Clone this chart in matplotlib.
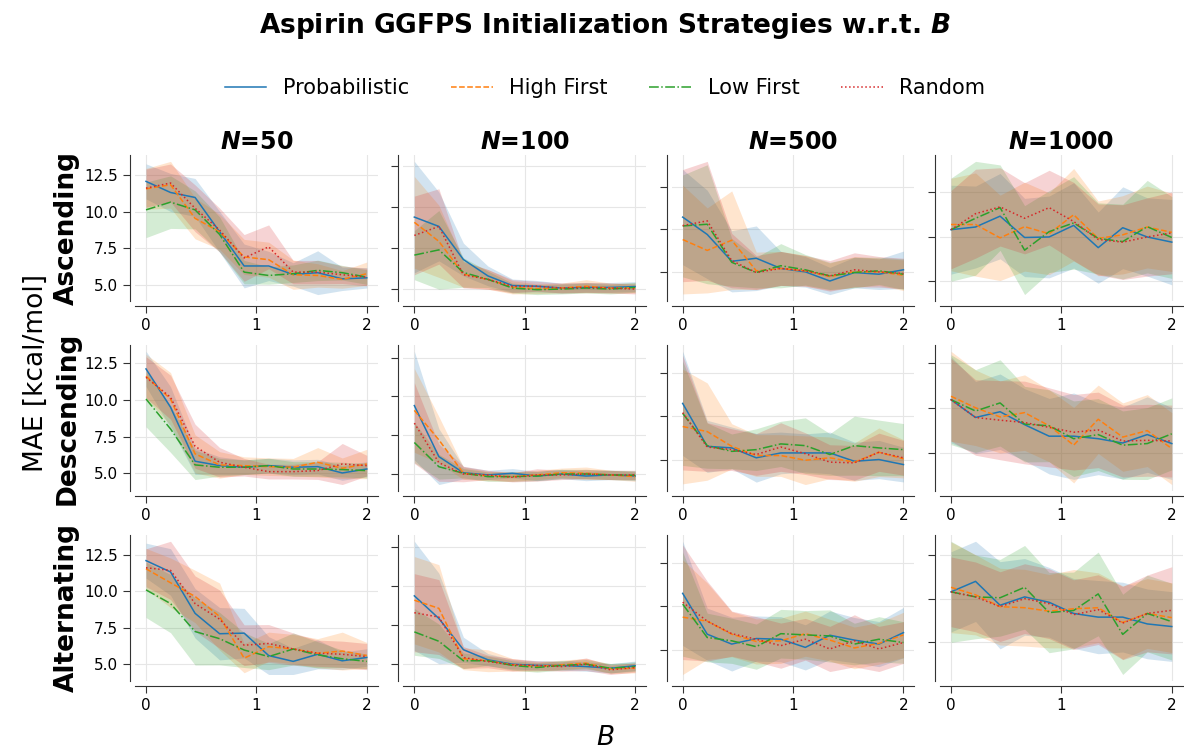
import numpy as np
import matplotlib.pyplot as plt
from matplotlib.ticker import MultipleLocator

strategies = ['Probabilistic', 'High First', 'Low First', 'Random']
orders = ['Ascending', 'Descending', 'Alternating']
n_values = [50, 100, 500, 1000]
b_values = np.linspace(0, 2, 10)

# MAE mean and std per panel, one row per strategy (Probabilistic, High First, Low First, Random)
asc_n50_mean = [[12.08, 11.32, 10.98, 8.63, 6.29, 6.29, 5.71, 5.83, 5.41, 5.48],
                [11.57, 11.85, 9.55, 8.63, 6.91, 6.72, 5.69, 5.64, 5.37, 5.76],
                [10.13, 10.66, 10.13, 8.45, 5.87, 5.64, 5.76, 5.99, 5.83, 5.53],
                [11.62, 11.97, 10.24, 8.75, 6.84, 7.60, 5.87, 5.87, 5.69, 5.53]]
asc_n50_sd = [[1.2, 1.3, 1.3, 1.4, 1.5, 1.0, 0.8, 1.5, 0.8, 0.7],
              [1.4, 1.6, 1.4, 1.2, 1.2, 1.2, 1.0, 0.8, 0.6, 0.8],
              [1.9, 1.8, 1.3, 1.2, 0.8, 0.6, 0.6, 0.7, 0.5, 0.5],
              [1.3, 1.3, 1.6, 1.5, 1.6, 1.5, 0.8, 0.8, 0.6, 0.6]]

asc_n100_mean = [[9.39, 8.82, 6.80, 5.80, 5.21, 5.17, 5.06, 5.10, 5.10, 5.15],
                 [9.07, 7.91, 5.91, 5.59, 5.10, 5.02, 5.06, 5.17, 5.06, 5.06],
                 [7.07, 7.39, 6.01, 5.59, 5.06, 4.96, 5.00, 5.06, 5.00, 5.10],
                 [8.27, 8.82, 5.87, 5.59, 5.17, 5.17, 5.06, 5.10, 5.06, 5.00]]
asc_n100_sd = [[3.4, 2.1, 1.0, 0.6, 0.4, 0.35, 0.3, 0.3, 0.3, 0.3],
               [2.8, 2.2, 0.8, 0.6, 0.4, 0.3, 0.3, 0.4, 0.3, 0.3],
               [1.5, 2.4, 0.9, 0.5, 0.3, 0.3, 0.3, 0.3, 0.3, 0.3],
               [2.4, 2.3, 0.8, 0.6, 0.4, 0.3, 0.3, 0.3, 0.3, 0.3]]

asc_n500_mean = [[8.22, 7.20, 5.62, 5.80, 5.20, 5.00, 4.46, 4.96, 4.86, 5.12],
                 [6.90, 6.26, 6.86, 5.06, 5.20, 5.06, 4.72, 5.00, 5.00, 4.80],
                 [7.70, 7.80, 5.56, 4.96, 5.36, 5.12, 4.76, 4.96, 5.06, 4.86],
                 [7.72, 8.00, 5.66, 4.96, 5.20, 5.06, 4.76, 5.12, 5.00, 4.90]]
asc_n500_sd = [[2.8, 2.6, 1.8, 1.9, 1.0, 0.9, 0.8, 0.9, 0.9, 1.1],
               [3.2, 2.5, 2.9, 1.1, 1.0, 0.9, 0.8, 0.9, 0.8, 0.9],
               [3.0, 3.5, 1.4, 0.9, 1.3, 0.9, 0.8, 0.9, 0.8, 0.9],
               [3.3, 3.5, 1.6, 1.0, 1.0, 0.9, 0.9, 1.0, 0.9, 0.9]]

asc_n1000_mean = [[7.89, 8.04, 8.65, 7.45, 7.48, 8.13, 6.88, 8.00, 7.48, 7.19],
                  [8.18, 8.18, 7.43, 8.06, 7.66, 8.73, 7.40, 7.60, 8.04, 7.74],
                  [7.89, 8.53, 9.13, 6.74, 7.78, 8.27, 7.40, 7.22, 8.06, 7.45],
                  [7.89, 8.79, 9.17, 8.53, 9.13, 8.35, 7.34, 7.19, 7.48, 7.71]]
asc_n1000_sd = [[2.5, 2.3, 2.4, 2.2, 2.3, 2.4, 2.0, 2.3, 2.2, 2.4],
                [2.6, 2.9, 2.4, 2.5, 2.3, 2.6, 2.1, 2.2, 2.3, 2.2],
                [2.9, 3.2, 2.4, 2.5, 2.3, 2.6, 2.0, 2.1, 2.6, 2.3],
                [2.2, 2.5, 2.2, 2.0, 2.1, 2.2, 2.0, 2.1, 2.2, 2.3]]

desc_n50_mean = [[12.11, 9.50, 5.82, 5.52, 5.41, 5.52, 5.41, 5.45, 5.02, 5.29],
                 [11.61, 10.06, 6.32, 5.57, 5.52, 5.45, 5.41, 5.75, 5.34, 5.63],
                 [10.06, 8.02, 5.57, 5.41, 5.41, 5.52, 5.29, 5.29, 5.25, 5.18],
                 [11.54, 10.18, 6.84, 5.75, 5.41, 5.11, 5.11, 5.18, 5.63, 5.52]]
desc_n50_sd = [[1.2, 1.4, 0.9, 0.6, 0.5, 0.5, 0.5, 0.5, 0.5, 0.5],
               [1.5, 1.8, 1.3, 0.9, 0.6, 0.6, 0.6, 1.0, 0.7, 1.0],
               [1.9, 1.6, 1.0, 0.6, 0.5, 0.5, 0.5, 0.5, 0.5, 0.5],
               [1.4, 1.5, 1.5, 1.0, 0.6, 0.5, 0.5, 0.6, 1.4, 0.7]]

desc_n100_mean = [[9.41, 6.12, 5.08, 4.94, 5.05, 4.87, 5.00, 4.87, 4.94, 4.87],
                  [9.10, 7.20, 5.05, 4.87, 4.83, 4.94, 5.08, 5.05, 4.94, 4.83],
                  [7.03, 5.47, 5.05, 4.83, 4.83, 4.87, 5.00, 5.00, 4.94, 4.92],
                  [8.28, 5.73, 5.00, 4.94, 4.79, 4.94, 4.94, 5.00, 4.94, 4.94]]
desc_n100_sd = [[3.5, 1.8, 0.4, 0.3, 0.3, 0.3, 0.3, 0.3, 0.3, 0.3],
                [2.7, 1.5, 0.4, 0.3, 0.3, 0.3, 0.3, 0.4, 0.3, 0.3],
                [1.3, 0.8, 0.3, 0.3, 0.3, 0.3, 0.3, 0.3, 0.3, 0.3],
                [2.6, 1.2, 0.5, 0.3, 0.3, 0.4, 0.3, 0.3, 0.3, 0.3]]

desc_n500_mean = [[8.23, 5.76, 5.67, 5.10, 5.38, 5.38, 5.38, 4.90, 5.00, 4.71],
                  [6.90, 6.61, 5.76, 5.23, 5.23, 4.96, 5.10, 4.85, 5.42, 5.04],
                  [7.66, 5.80, 5.47, 5.57, 5.90, 5.80, 5.29, 5.80, 5.67, 5.57],
                  [7.70, 5.72, 5.57, 5.29, 5.72, 5.34, 4.85, 4.81, 5.42, 5.10]]
desc_n500_sd = [[3.0, 1.5, 1.2, 1.4, 1.2, 1.1, 1.2, 1.1, 1.1, 1.0],
                [3.3, 2.8, 1.3, 1.2, 1.2, 1.4, 1.2, 1.1, 1.4, 1.1],
                [3.0, 1.3, 1.0, 1.2, 1.3, 1.6, 1.2, 1.7, 1.6, 1.5],
                [3.3, 1.4, 1.2, 1.2, 1.4, 1.2, 1.0, 1.0, 1.1, 1.0]]

desc_n1000_mean = [[7.95, 6.96, 7.28, 6.56, 5.92, 5.92, 5.78, 5.54, 6.01, 5.51],
                   [8.14, 7.50, 6.99, 7.23, 6.50, 5.42, 6.86, 5.87, 6.23, 5.23],
                   [7.95, 7.32, 7.77, 6.59, 6.50, 5.78, 6.01, 5.42, 5.51, 6.05],
                   [7.95, 6.96, 6.81, 6.68, 6.41, 6.14, 6.27, 5.65, 5.69, 5.65]]
desc_n1000_sd = [[2.4, 2.0, 2.1, 2.0, 2.1, 2.4, 2.0, 2.0, 2.1, 2.0],
                 [2.5, 2.1, 2.0, 2.1, 2.0, 2.1, 1.9, 1.9, 2.0, 2.0],
                 [2.5, 2.3, 2.4, 2.1, 2.0, 2.1, 2.0, 1.9, 2.0, 2.0],
                 [2.3, 2.1, 2.2, 2.3, 2.2, 2.1, 2.1, 2.0, 2.0, 2.0]]

alt_n50_mean = [[12.10, 11.32, 8.48, 7.08, 7.12, 5.58, 5.18, 5.67, 5.22, 5.45],
                [11.54, 10.58, 9.64, 8.26, 5.40, 6.19, 6.03, 5.74, 5.89, 5.58],
                [10.09, 9.15, 7.23, 6.74, 5.96, 5.51, 6.03, 5.63, 5.36, 5.18],
                [11.61, 11.43, 9.15, 8.08, 6.29, 6.41, 6.03, 5.74, 5.67, 5.51]]
alt_n50_sd = [[1.2, 1.6, 1.7, 1.8, 1.7, 1.3, 0.9, 1.0, 0.6, 0.6],
              [1.4, 1.7, 1.8, 2.3, 1.0, 1.0, 1.0, 1.0, 1.3, 0.9],
              [1.9, 2.0, 2.3, 1.8, 1.2, 0.9, 1.1, 0.9, 0.6, 0.5],
              [1.3, 2.0, 1.9, 2.0, 1.4, 1.3, 1.1, 0.9, 0.9, 0.9]]

alt_n100_mean = [[9.38, 7.93, 5.93, 5.28, 5.00, 4.92, 4.92, 4.85, 4.74, 4.90],
                 [9.10, 8.58, 5.35, 5.22, 4.96, 4.85, 4.96, 5.07, 4.70, 4.74],
                 [7.07, 6.47, 5.22, 5.22, 4.92, 4.79, 4.92, 5.00, 4.74, 4.85],
                 [8.30, 8.02, 5.43, 5.17, 4.96, 4.92, 4.85, 5.00, 4.64, 4.79]]
alt_n100_sd = [[3.5, 2.9, 0.8, 0.4, 0.3, 0.3, 0.3, 0.3, 0.3, 0.3],
               [2.8, 2.8, 0.7, 0.7, 0.4, 0.3, 0.3, 0.3, 0.3, 0.3],
               [1.5, 1.1, 0.5, 0.3, 0.3, 0.3, 0.3, 0.3, 0.3, 0.3],
               [2.5, 2.4, 0.7, 0.4, 0.4, 0.3, 0.3, 0.4, 0.3, 0.3]]

alt_n500_mean = [[8.24, 5.89, 5.32, 5.64, 5.60, 5.13, 5.83, 5.55, 5.32, 5.98],
                 [6.87, 6.64, 5.89, 5.47, 5.51, 5.92, 5.55, 5.10, 5.36, 5.85],
                 [7.62, 5.70, 5.51, 5.17, 5.92, 5.85, 5.79, 5.32, 5.60, 5.41],
                 [7.73, 6.64, 5.92, 5.60, 5.23, 5.60, 5.04, 5.51, 5.04, 5.41]]
alt_n500_sd = [[3.0, 1.5, 1.55, 1.3, 1.3, 1.3, 1.4, 1.3, 1.3, 1.45],
               [3.3, 2.2, 1.3, 1.3, 1.3, 1.3, 1.2, 1.2, 1.2, 1.3],
               [3.0, 1.4, 1.3, 1.3, 1.4, 1.4, 1.5, 1.2, 1.3, 1.2],
               [3.3, 2.3, 1.3, 1.3, 1.3, 1.2, 1.3, 1.5, 1.3, 1.2]]

alt_n1000_mean = [[7.90, 8.50, 7.13, 7.61, 7.30, 6.66, 6.45, 6.45, 6.06, 5.91],
                  [8.16, 7.73, 7.05, 6.99, 6.79, 6.93, 6.99, 6.14, 6.66, 6.42],
                  [7.90, 7.61, 7.56, 8.16, 6.71, 6.83, 7.78, 5.46, 6.66, 6.19],
                  [7.90, 7.61, 7.05, 7.51, 7.22, 6.59, 6.88, 6.11, 6.66, 6.84]]
alt_n1000_sd = [[2.3, 2.3, 2.5, 2.2, 2.0, 2.0, 2.1, 2.0, 2.0, 2.0],
                [2.6, 2.3, 2.2, 2.2, 2.1, 2.25, 2.0, 2.1, 2.0, 2.0],
                [2.9, 2.4, 2.2, 2.4, 2.3, 2.2, 2.4, 2.3, 2.2, 2.2],
                [2.0, 2.0, 2.0, 2.0, 2.0, 2.0, 2.0, 2.1, 2.2, 2.5]]

means = [[asc_n50_mean, asc_n100_mean, asc_n500_mean, asc_n1000_mean],
         [desc_n50_mean, desc_n100_mean, desc_n500_mean, desc_n1000_mean],
         [alt_n50_mean, alt_n100_mean, alt_n500_mean, alt_n1000_mean]]
sds = [[asc_n50_sd, asc_n100_sd, asc_n500_sd, asc_n1000_sd],
       [desc_n50_sd, desc_n100_sd, desc_n500_sd, desc_n1000_sd],
       [alt_n50_sd, alt_n100_sd, alt_n500_sd, alt_n1000_sd]]

colors = ['tab:blue', 'tab:orange', 'tab:green', 'tab:red']
styles = ['-', '--', '-.', ':']

fig, axes = plt.subplots(3, 4, figsize=(11.84, 7.51), dpi=100)
fig.subplots_adjust(left=0.114, right=0.999, top=0.794, bottom=0.093,
                    wspace=0.105, hspace=0.296)

for i, order in enumerate(orders):
    for j, n in enumerate(n_values):
        ax = axes[i, j]
        m = np.array(means[i][j])
        s = np.array(sds[i][j])
        for k, name in enumerate(strategies):
            ax.plot(b_values, m[k], color=colors[k], ls=styles[k], lw=1.1, label=name)
            ax.fill_between(b_values, m[k] - s[k], m[k] + s[k], color=colors[k],
                            alpha=0.2, lw=0)
        ax.set_xticks([0, 1, 2])
        ax.yaxis.set_major_locator(MultipleLocator(2.5))
        ax.grid(True, color='#e6e6e6', lw=0.8)
        ax.set_axisbelow(True)
        for side in ['top', 'right']:
            ax.spines[side].set_visible(False)
        for side in ['left', 'bottom']:
            ax.spines[side].set_position(('outward', 3.6))
            ax.spines[side].set_color('#333333')
        ax.tick_params(direction='out', length=5, color='#333333', labelsize=11)
        if j > 0:
            ax.set_yticklabels([])
        else:
            ax.set_ylabel(order, fontsize=19, fontweight='bold')
            ax.yaxis.set_label_coords(-0.225, 0.5)
        if i == 0:
            ax.set_title(r'$\mathbfit{N}$=' + str(n), fontsize=17, fontweight='bold', pad=4)

fig.suptitle(r'Aspirin GGFPS Initialization Strategies w.r.t. $\mathbfit{B}$',
             x=0.511, y=0.965, va='center', fontsize=19, fontweight='bold')
handles, labels = axes[0, 0].get_legend_handles_labels()
fig.legend(handles, labels, loc='center', bbox_to_anchor=(0.511, 0.883), ncol=4,
           frameon=False, fontsize=15)
fig.supylabel('MAE [kcal/mol]', x=0.019, y=0.503, fontsize=19)
fig.supxlabel('$B$', x=0.511, y=0.0, fontsize=19)

fig.savefig('out.png', dpi=100)
